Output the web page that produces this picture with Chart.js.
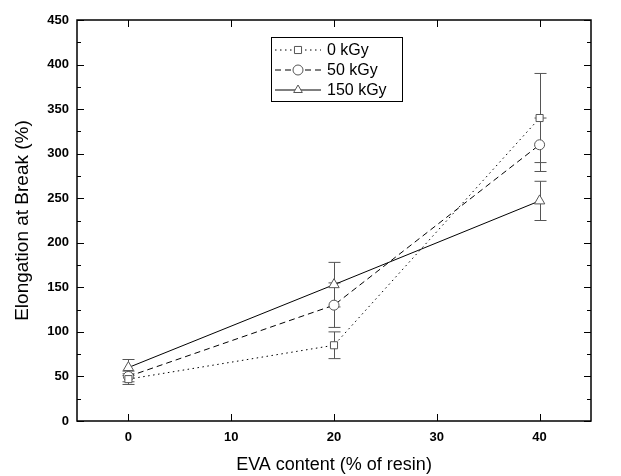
<!DOCTYPE html>
<html>
<head>
<meta charset="utf-8">
<script src="https://cdn.jsdelivr.net/npm/chart.js@4"></script>
<style>
  body { margin: 0; background: #fff; }
  #wrap { width: 621px; height: 476px; }
</style>
</head>
<body>
<div id="wrap"><canvas id="chart"></canvas></div>
<script>
// EVA content (% of resin)
const evaContent = [0, 20, 40];

// elongation at break (%) and error bars
const dose0 = [47, 85, 340];
const dose0Err = [6, 15, 50];
const dose50 = [50, 130, 310];
const dose50Err = [6, 25, 30];
const dose150 = [60, 153, 247];
const dose150Err = [9, 25, 22];

const seriesNames = ['0 kGy', '50 kGy', '150 kGy'];

const font = "'Liberation Sans', Arial, sans-serif";

function toPoints(vals) {
  return evaContent.map((x, i) => ({ x: x, y: vals[i] }));
}

// error bars, tick marks, frame and legend
const decorPlugin = {
  id: 'decor',
  beforeDatasetsDraw(chart) {
    const ctx = chart.ctx;
    const xs = chart.scales.x;
    const ys = chart.scales.y;
    const errs = [dose0Err, dose50Err, dose150Err];
    ctx.save();
    ctx.strokeStyle = '#555';
    ctx.lineWidth = 1;
    chart.data.datasets.forEach((ds, d) => {
      ds.data.forEach((p, i) => {
        const px = Math.round(xs.getPixelForValue(p.x)) + 0.5;
        const top = ys.getPixelForValue(p.y + errs[d][i]);
        const bot = ys.getPixelForValue(p.y - errs[d][i]);
        ctx.beginPath();
        ctx.moveTo(px, top); ctx.lineTo(px, bot);
        ctx.moveTo(px - 6, top); ctx.lineTo(px + 6, top);
        ctx.moveTo(px - 6, bot); ctx.lineTo(px + 6, bot);
        ctx.stroke();
      });
    });
    ctx.restore();
  },
  afterDraw(chart) {
    const ctx = chart.ctx;
    const a = chart.chartArea;
    const xs = chart.scales.x;
    const ys = chart.scales.y;
    ctx.save();
    ctx.strokeStyle = '#000';
    ctx.lineWidth = 1.5;
    ctx.strokeRect(a.left, a.top, a.right - a.left, a.bottom - a.top);

    ctx.lineWidth = 1;
    ctx.beginPath();
    for (let v = 0; v <= 450; v += 25) {
      const py = Math.round(ys.getPixelForValue(v)) + 0.5;
      const len = v % 50 === 0 ? 7 : 4;
      ctx.moveTo(a.left, py); ctx.lineTo(a.left + len, py);
      ctx.moveTo(a.right, py); ctx.lineTo(a.right - len, py);
    }
    for (let v = 0; v <= 40; v += 10) {
      const px = Math.round(xs.getPixelForValue(v)) + 0.5;
      ctx.moveTo(px, a.bottom); ctx.lineTo(px, a.bottom - 7);
      ctx.moveTo(px, a.top); ctx.lineTo(px, a.top + 7);
    }
    ctx.stroke();

    // legend box
    const lx = 271, ly = 37, lw = 131, lh = 64;
    ctx.lineWidth = 1;
    ctx.strokeRect(lx + 0.5, ly + 0.5, lw, lh);
    ctx.font = '16px ' + font;
    ctx.fillStyle = '#000';
    ctx.textBaseline = 'middle';
    chart.data.datasets.forEach((ds, i) => {
      const ry = ly + 13 + i * 20;
      ctx.strokeStyle = '#000';
      ctx.setLineDash(ds.borderDash);
      ctx.beginPath();
      ctx.moveTo(lx + 4, ry); ctx.lineTo(lx + 50, ry);
      ctx.stroke();
      ctx.setLineDash([]);
      ctx.fillStyle = '#fff';
      ctx.strokeStyle = '#555';
      Chart.helpers.drawPoint(ctx, {
        pointStyle: ds.pointStyle, radius: 5, borderWidth: 1
      }, lx + 27, ry);
      ctx.fillStyle = '#000';
      ctx.fillText(seriesNames[i], lx + 56, ry + 1);
    });
    ctx.restore();
  }
};

const commonSet = {
  borderColor: '#000',
  borderWidth: 1,
  pointBackgroundColor: '#fff',
  pointBorderColor: '#555',
  pointBorderWidth: 1,
  pointRadius: 5,
  showLine: true,
  tension: 0
};

new Chart(document.getElementById('chart'), {
  type: 'scatter',
  data: {
    datasets: [
      Object.assign({ label: seriesNames[0], data: toPoints(dose0), borderDash: [1.5, 3.5], pointStyle: 'rect' }, commonSet),
      Object.assign({ label: seriesNames[1], data: toPoints(dose50), borderDash: [6, 4], pointStyle: 'circle' }, commonSet),
      Object.assign({ label: seriesNames[2], data: toPoints(dose150), borderDash: [], pointStyle: 'triangle' }, commonSet, { pointRadius: 6 })
    ]
  },
  options: {
    responsive: true,
    maintainAspectRatio: false,
    animation: false,
    layout: { padding: { top: 20, right: 30, left: 0, bottom: 0 } },
    plugins: { legend: { display: false }, tooltip: { enabled: false } },
    scales: {
      x: {
        type: 'linear',
        min: -5,
        max: 45,
        afterBuildTicks(scale) {
          scale.ticks = [0, 10, 20, 30, 40].map(v => ({ value: v }));
        },
        afterFit(scale) { scale.height = 55; },
        grid: { display: false, drawTicks: false },
        border: { display: false },
        ticks: { color: '#000', padding: 9, font: { family: font, size: 13, weight: 'bold' } },
        title: {
          display: true,
          text: 'EVA content (% of resin)',
          color: '#000',
          padding: { top: 6, bottom: 0 },
          font: { family: font, size: 18 }
        }
      },
      y: {
        min: 0,
        max: 450,
        afterFit(scale) { scale.width = 77; },
        grid: { display: false, drawTicks: false },
        border: { display: false },
        ticks: { stepSize: 50, color: '#000', padding: 8, font: { family: font, size: 13, weight: 'bold' } },
        title: {
          display: true,
          text: 'Elongation at Break (%)',
          color: '#000',
          padding: { top: 11, bottom: 0 },
          font: { family: font, size: 19 }
        }
      }
    }
  },
  plugins: [decorPlugin]
});
</script>
</body>
</html>
